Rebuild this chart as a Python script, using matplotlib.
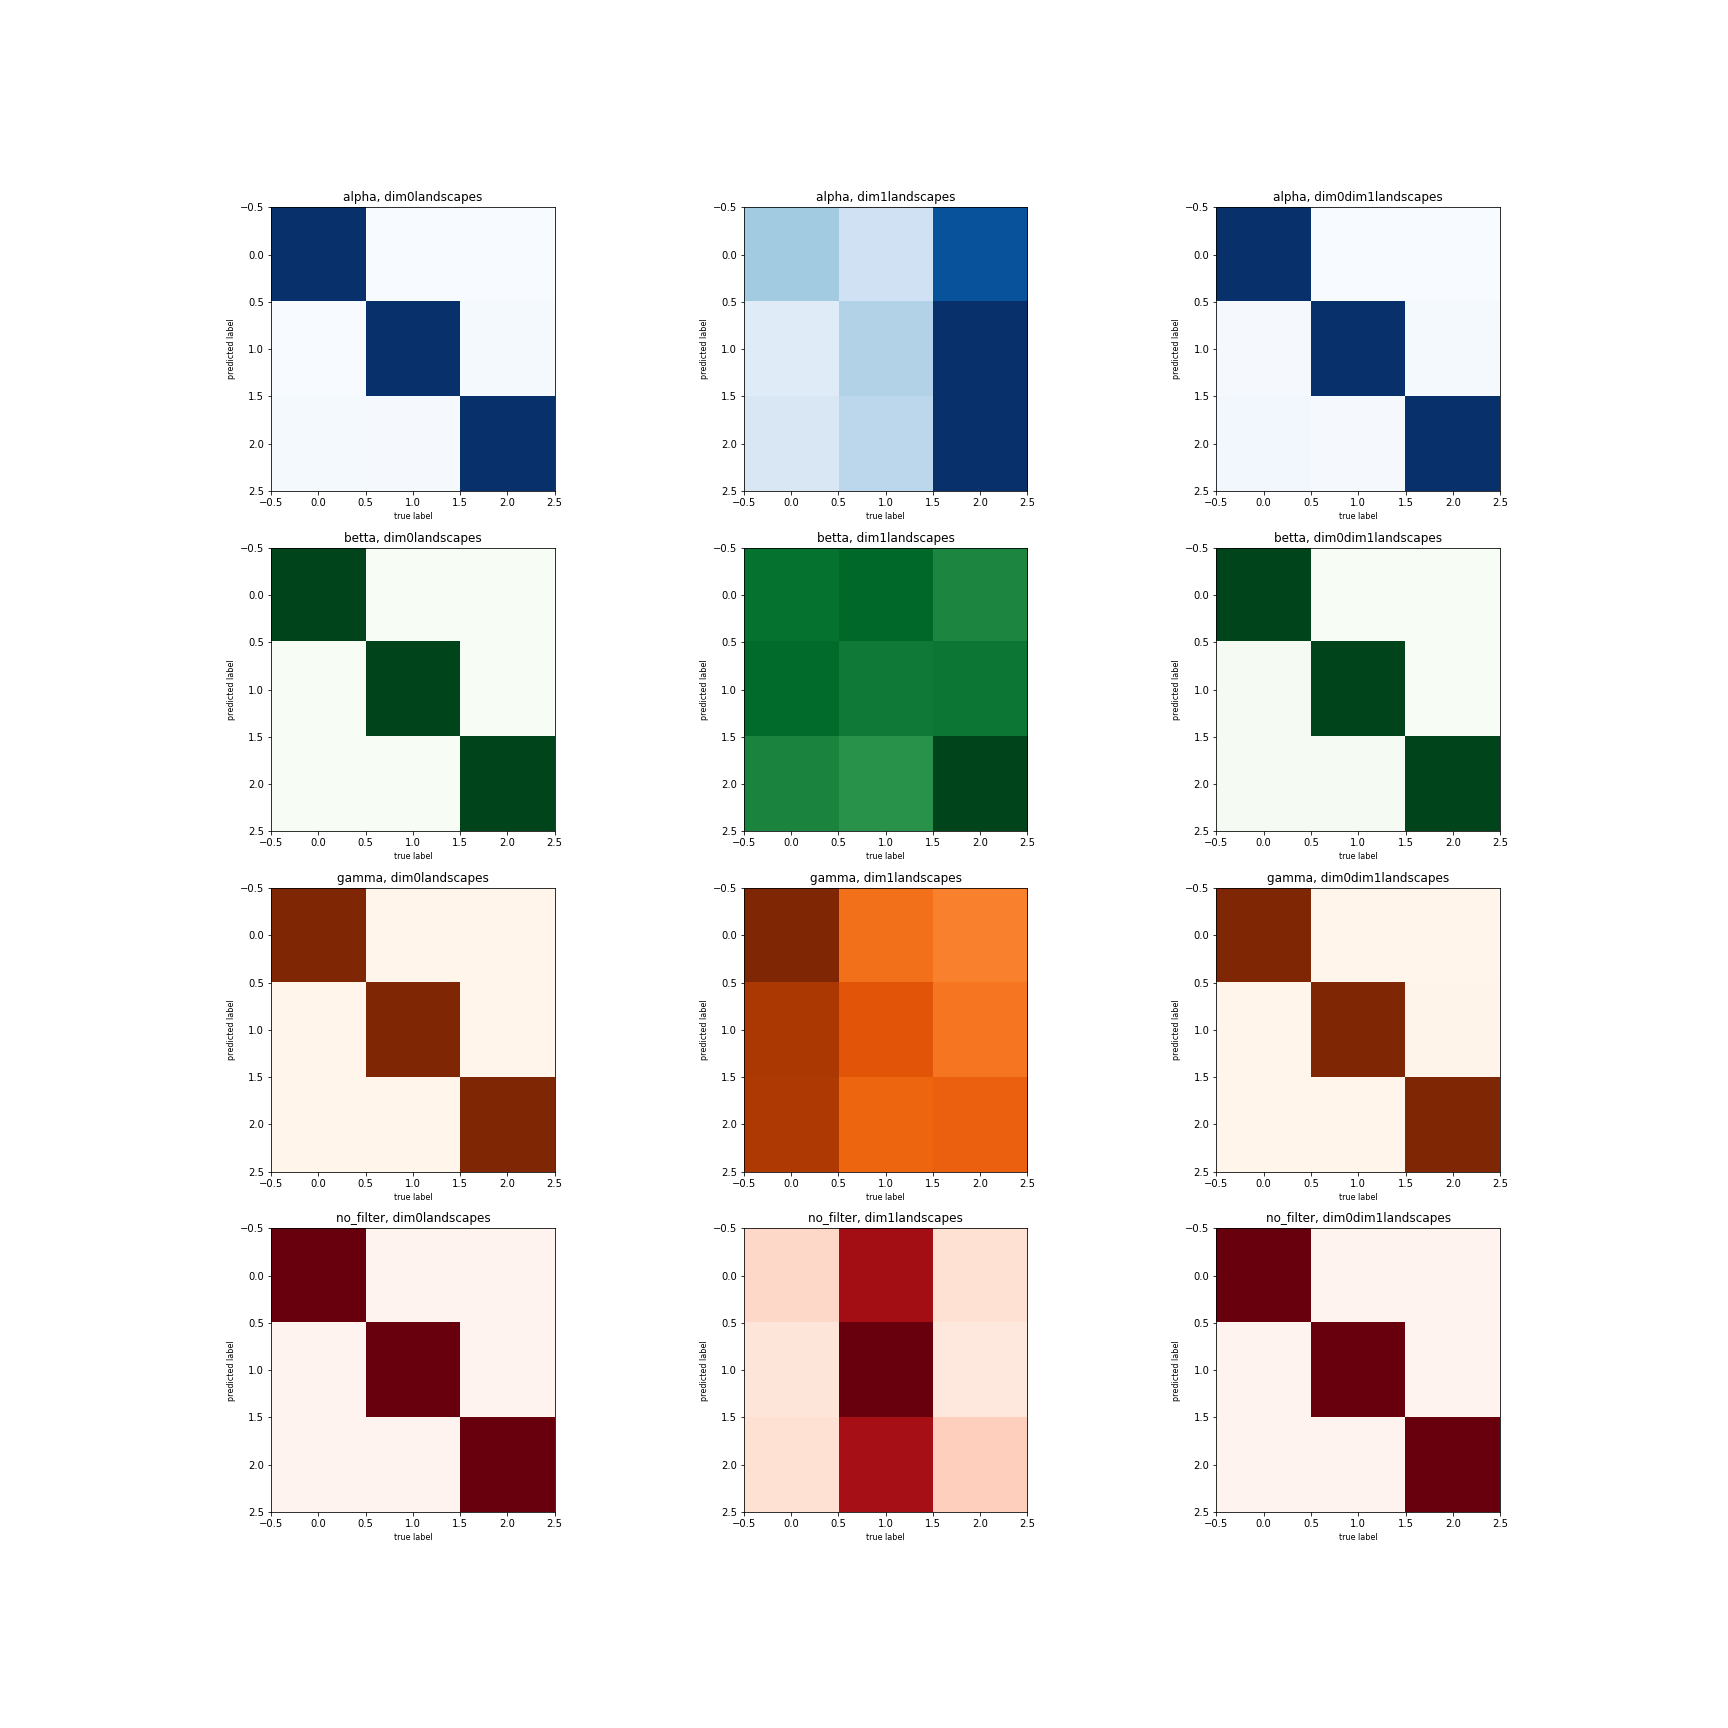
import numpy as np
import matplotlib

matplotlib.use("Agg")
import matplotlib.pyplot as plt

# ---------- Confusion matrix scores ----------
filters = ["alpha", "betta", "gamma", "no_filter"]
features = ["dim0landscapes", "dim1landscapes", "dim0dim1landscapes"]
cmaps = ["Blues", "Greens", "Oranges", "Reds"]

alpha_dim0 = [[1.00, 0.00, 0.00], [0.00, 1.00, 0.015], [0.015, 0.008, 1.00]]
alpha_dim1 = [[0.36, 0.20, 0.87], [0.12, 0.31, 1.00], [0.15, 0.28, 1.00]]
alpha_dim01 = [[1.00, 0.00, 0.00], [0.008, 1.00, 0.015], [0.03, 0.008, 1.00]]

betta_dim0 = [[1.00, 0.00, 0.00], [0.00, 1.00, 0.00], [0.00, 0.00, 1.00]]
betta_dim1 = [[0.85, 0.89, 0.77], [0.875, 0.82, 0.83], [0.78, 0.72, 1.00]]
betta_dim01 = [[1.00, 0.00, 0.00], [0.01, 1.00, 0.00], [0.01, 0.01, 1.00]]

gamma_dim0 = [[1.00, 0.00, 0.00], [0.00, 1.00, 0.00], [0.00, 0.00, 1.00]]
gamma_dim1 = [[1.00, 0.60, 0.54], [0.86, 0.70, 0.58], [0.85, 0.64, 0.66]]
gamma_dim01 = [[1.00, 0.00, 0.00], [0.00, 1.00, 0.01], [0.00, 0.00, 1.00]]

nofilter_dim0 = [[1.00, 0.01, 0.01], [0.01, 1.00, 0.01], [0.01, 0.01, 1.00]]
nofilter_dim1 = [[0.15, 0.875, 0.12], [0.09, 1.00, 0.08], [0.12, 0.87, 0.18]]
nofilter_dim01 = [[1.00, 0.01, 0.01], [0.01, 1.00, 0.01], [0.01, 0.01, 1.00]]

matrices = [
    [alpha_dim0, alpha_dim1, alpha_dim01],
    [betta_dim0, betta_dim1, betta_dim01],
    [gamma_dim0, gamma_dim1, gamma_dim01],
    [nofilter_dim0, nofilter_dim1, nofilter_dim01],
]

# ---------- Plot grid ----------
fig, axes = plt.subplots(4, 3, figsize=(24, 24), dpi=72)
fig.subplots_adjust(left=0.125, right=0.9, top=0.88, bottom=0.125,
                    wspace=0.2, hspace=0.2)

for i, filt in enumerate(filters):
    for j, feat in enumerate(features):
        ax = axes[i, j]
        ax.imshow(np.array(matrices[i][j]), cmap=cmaps[i],
                  vmin=0, vmax=1, interpolation="nearest")
        ax.set_title(f"{filt}, {feat}", fontsize=12)
        ax.set_xlabel("true label", fontsize=8)
        ax.set_ylabel("predicted label", fontsize=8)

fig.savefig("out.png", dpi=72)
